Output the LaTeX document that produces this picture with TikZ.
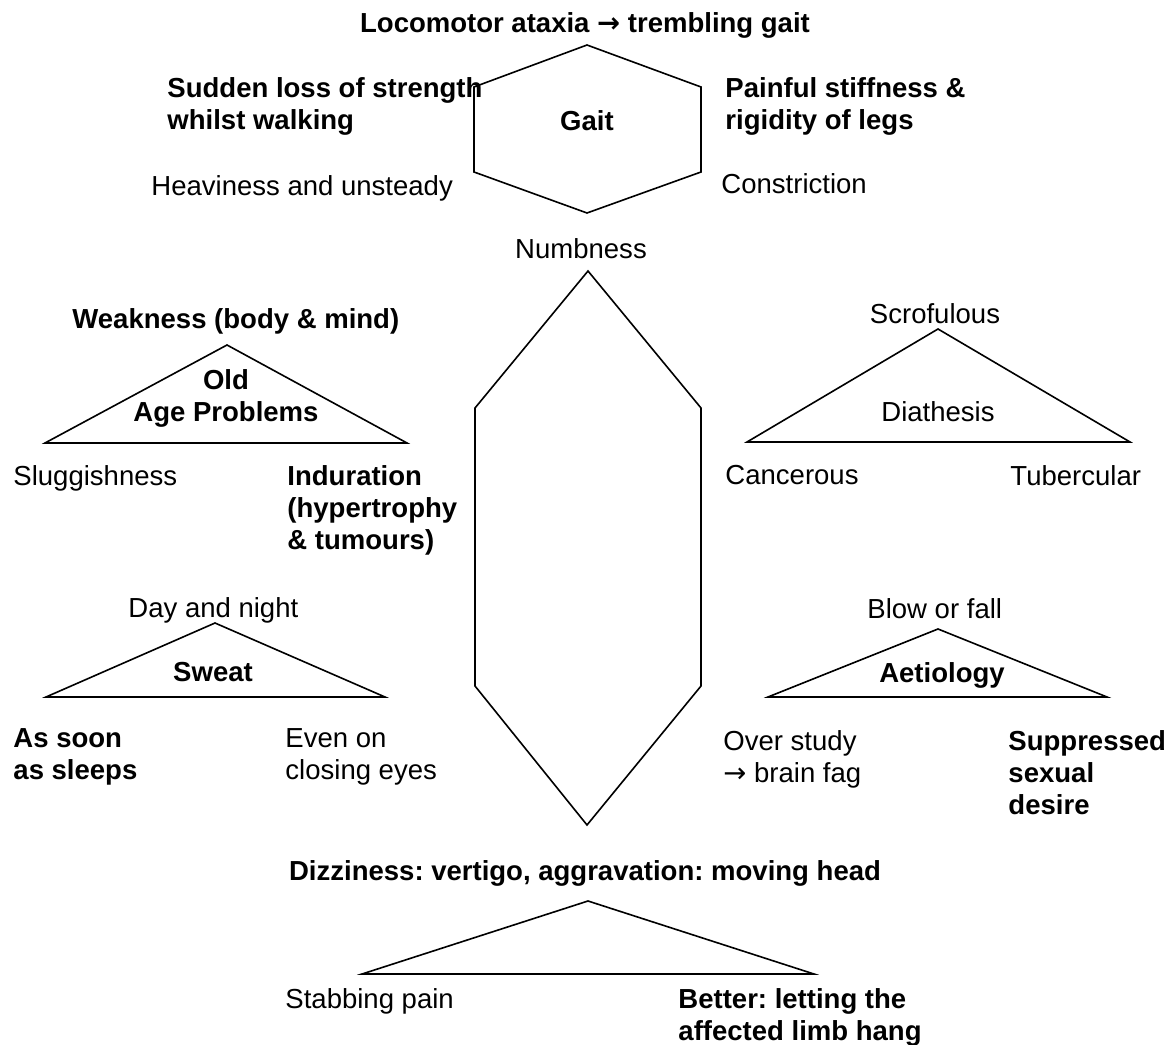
\documentclass[tikz,border=0pt]{standalone}
\usepackage{fontspec}
\setmainfont{Liberation Sans}
\newfontfamily\arrowfont{DejaVu Sans}
\frenchspacing
\usepackage{tikz}
\newcommand{\thn}{{\arrowfont →}}
\tikzstyle{lbl} = [inner sep=0pt, anchor=north west, align=left, font=\fontsize{12}{14}\selectfont]
\tikzstyle{blbl} = [lbl, font=\fontsize{12}{14}\selectfont\bfseries]
\tikzstyle{clbl} = [lbl, anchor=north, align=center]
\tikzstyle{cblbl} = [blbl, anchor=north, align=center]
\tikzstyle{outline} = [draw=black, line width=0.7pt, line join=miter]

\begin{document}
\begin{tikzpicture}[x=0.436pt, y=-0.436pt]
	\useasboundingbox (0,0) rectangle (1168,1045);

	% gait
	\draw [outline] (587,45) -- (701,87) -- (701,172) -- (587,213) -- (474,172) -- (474,87) -- cycle;
	\node (title) [cblbl] at (585,12) {Locomotor ataxia \thn{} trembling gait};
	\node (gait) [cblbl] at (587,110) {Gait};
	\node (sudden) [blbl] at (167,77) {Sudden loss of strength\\whilst walking};
	\node (painful) [blbl] at (725,77) {Painful stiffness \&\\rigidity of legs};
	\node (heavy) [lbl] at (151,175) {Heaviness and unsteady};
	\node (constr) [lbl] at (721,173) {Constriction};

	% long hexagon
	\draw [outline] (588,271) -- (701,408) -- (701,686) -- (587,825) -- (475,686) -- (475,408) -- cycle;
	\node (numb) [clbl] at (581,238) {Numbness};
	\node (dizzy) [cblbl] at (585,860) {Dizziness: vertigo, aggravation: moving head};

	% old age
	\draw [outline] (227,345) -- (407,443) -- (45,443) -- cycle;
	\node (weak) [blbl] at (72,308) {Weakness (body \& mind)};
	\node (oldage) [cblbl] at (226,369) {Old\\Age Problems};
	\node (slug) [lbl] at (13,465) {Sluggishness};
	\node (indur) [blbl] at (287,465) {Induration\\(hypertrophy\\\& tumours)};

	% diathesis
	\draw [outline] (938,329) -- (1130,442) -- (747,442) -- cycle;
	\node (scrof) [clbl] at (935,303) {Scrofulous};
	\node (diath) [clbl] at (938,401) {Diathesis};
	\node (cancer) [lbl] at (725,465) {Cancerous};
	\node (tuber) [lbl] at (1010,465) {Tubercular};

	% sweat
	\draw [outline] (215,623) -- (385,697) -- (46,697) -- cycle;
	\node (daynight) [lbl] at (128,597) {Day and night};
	\node (sweat) [cblbl] at (213,662) {Sweat};
	\node (assoon) [blbl] at (13,728) {As soon\\as sleeps};
	\node (evenon) [lbl] at (285,728) {Even on\\closing eyes};

	% aetiology
	\draw [outline] (938,629) -- (1107,697) -- (768,697) -- cycle;
	\node (blow) [lbl] at (867,598) {Blow or fall};
	\node (aetio) [cblbl] at (942,662) {Aetiology};
	\node (over) [lbl] at (723,730) {Over study\\\thn{} brain fag};
	\node (suppr) [blbl] at (1008,730) {Suppressed\\sexual\\desire};

	% bottom
	\draw [outline] (588,901) -- (814,974) -- (362,974) -- cycle;
	\node (stab) [lbl] at (285,988) {Stabbing pain};
	\node (better) [blbl] at (678,988) {Better: letting the\\affected limb hang};
\end{tikzpicture}
\end{document}
